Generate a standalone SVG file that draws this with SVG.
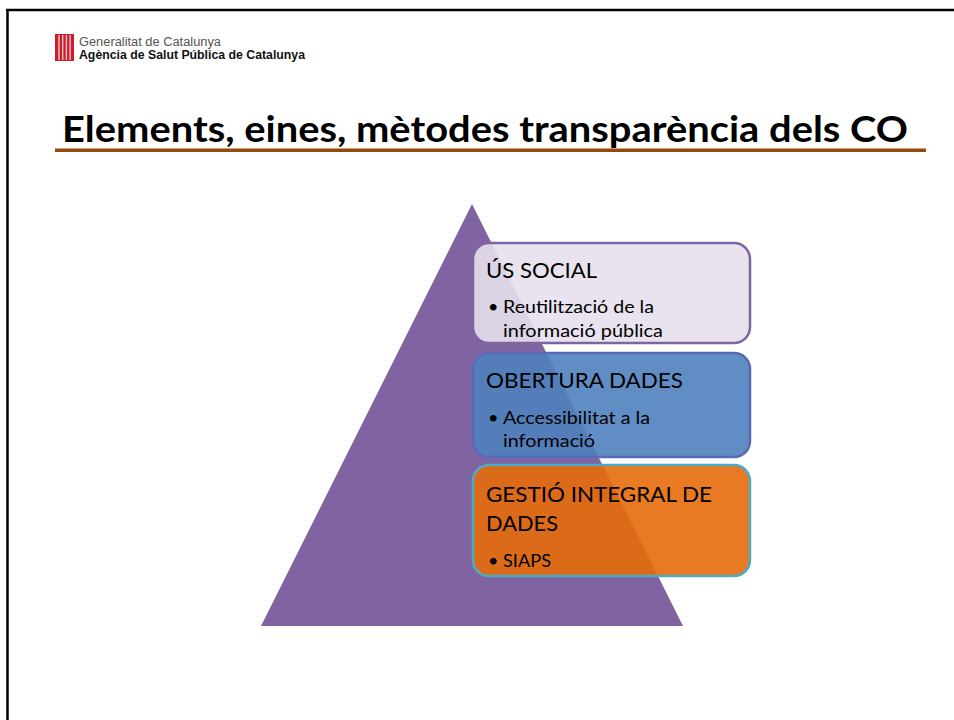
<svg xmlns="http://www.w3.org/2000/svg" width="954" height="720" viewBox="0 0 954 720">
<style>
.frame{stroke:#000;stroke-width:2.5;fill:none}
.head{font-family:Lato,"Open Sans",sans-serif;font-size:22px;fill:#000}
.bul{font-family:Lato,"Open Sans",sans-serif;font-size:18px;fill:#000}
.title{font-family:Lato,"Open Sans",sans-serif;font-weight:bold;font-size:37px;fill:#000}
.logo1{font-family:"Liberation Sans",Arial,sans-serif;font-size:12px;fill:#555}
.logo2{font-family:"Liberation Sans",Arial,sans-serif;font-weight:bold;font-size:12px;fill:#111}
</style>
<rect width="954" height="720" fill="#fff"/>
<g id="frame">
<line class="frame" x1="7.5" y1="10" x2="7.5" y2="720"/>
<line class="frame" x1="6" y1="10" x2="954" y2="10"/>
</g>
<g id="logo">
<rect x="55" y="34" width="19" height="27" fill="#c8202f"/>
<g stroke="#f0c0c0" stroke-width="1.4">
<line x1="59" y1="35" x2="59" y2="60"/>
<line x1="62.7" y1="35" x2="62.7" y2="60"/>
<line x1="66.4" y1="35" x2="66.4" y2="60"/>
<line x1="70.1" y1="35" x2="70.1" y2="60"/>
</g>
<text class="logo1" x="79" y="46" textLength="142" lengthAdjust="spacingAndGlyphs">Generalitat de Catalunya</text>
<text class="logo2" x="79" y="59" textLength="226" lengthAdjust="spacingAndGlyphs">Agència de Salut Pública de Catalunya</text>
</g>
<g id="title">
<text class="title" x="62" y="142" textLength="846" lengthAdjust="spacingAndGlyphs">Elements, eines, mètodes transparència dels CO</text>
<rect x="55" y="148.5" width="871" height="3.5" fill="#984807"/>
</g>
<g id="pyramid">
<polygon points="472,204 683,626 261,626" fill="#8064a2"/>
</g>
<g id="us-social">
<rect x="473" y="243" width="277" height="100" rx="16" fill="#e6e0ec" fill-opacity="0.9" stroke="#8064a2" stroke-width="2.5"/>
<text class="head" x="486" y="278" textLength="111" lengthAdjust="spacingAndGlyphs">ÚS SOCIAL</text>
<text class="bul" x="488" y="313">•</text>
<text class="bul" x="503" y="313" textLength="151" lengthAdjust="spacingAndGlyphs">Reutilització de la</text>
<text class="bul" x="503" y="337" textLength="160" lengthAdjust="spacingAndGlyphs">informació pública</text>
</g>
<g id="obertura-dades">
<rect x="473" y="353" width="277" height="104" rx="16" fill="#4f81bd" fill-opacity="0.9" stroke="#5a68b8" stroke-width="2.5"/>
<text class="head" x="486" y="388" textLength="197" lengthAdjust="spacingAndGlyphs">OBERTURA DADES</text>
<text class="bul" x="488" y="424">•</text>
<text class="bul" x="503" y="424" textLength="147" lengthAdjust="spacingAndGlyphs">Accessibilitat a la</text>
<text class="bul" x="503" y="447" textLength="92" lengthAdjust="spacingAndGlyphs">informació</text>
</g>
<g id="gestio-integral">
<rect x="473" y="465" width="277" height="111" rx="16" fill="#e46c0a" fill-opacity="0.9" stroke="#4bacc6" stroke-width="2.5"/>
<text class="head" x="486" y="502" textLength="226" lengthAdjust="spacingAndGlyphs">GESTIÓ INTEGRAL DE</text>
<text class="head" x="486" y="531" textLength="72" lengthAdjust="spacingAndGlyphs">DADES</text>
<text class="bul" x="488" y="567">•</text>
<text class="bul" x="503" y="567" textLength="48" lengthAdjust="spacingAndGlyphs">SIAPS</text>
</g>
<g id="connectors"/>
</svg>
